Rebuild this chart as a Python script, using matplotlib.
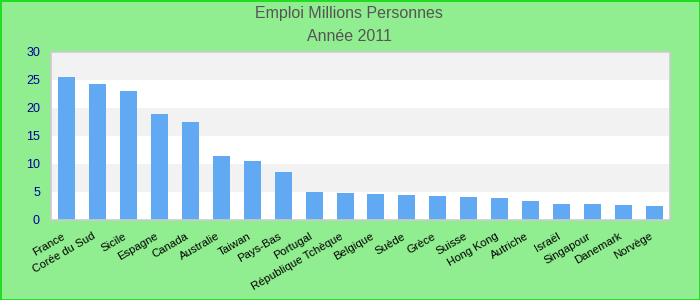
import numpy as np
import matplotlib.pyplot as plt
import matplotlib.transforms as mtransforms

# Data
countries = ["France", "Corée du Sud", "Sicile", "Espagne", "Canada", "Australie",
             "Taiwan", "Pays-Bas", "Portugal", "République Tchèque", "Belgique",
             "Suède", "Grèce", "Suisse", "Hong Kong", "Autriche", "Israël",
             "Singapour", "Danemark", "Norvège"]
emploi = [25.5, 24.3, 23.0, 18.9, 17.5, 11.4, 10.5, 8.6, 5.0, 4.8, 4.6,
          4.5, 4.3, 4.1, 3.9, 3.4, 2.9, 2.9, 2.7, 2.5]
yticks = [0, 5, 10, 15, 20, 25, 30]

plt.rcParams['font.family'] = ['Liberation Sans', 'DejaVu Sans']

fig = plt.figure(figsize=(7, 3), dpi=100)
fig.patch.set_facecolor('#90ee90')
fig.patch.set_edgecolor('#22dd22')
fig.patch.set_linewidth(2)

ax = fig.add_axes([0.073, 0.267, 0.884, 0.56])
ax.set_facecolor('white')

# alternating horizontal bands
for i in range(len(yticks) - 1):
    if i % 2 == 1:
        ax.axhspan(yticks[i], yticks[i + 1], color='#f2f2f2', zorder=0, lw=0)

x = np.arange(len(countries))
ax.bar(x, emploi, width=0.55, color='#62a9f4', zorder=2)

ax.set_xlim(-0.5, len(countries) - 0.5)
ax.set_ylim(0, 30)
ax.set_yticks(yticks)
ax.tick_params(axis='y', length=0, labelsize=9, labelcolor='#000099', pad=8)
ax.set_xticks(x)
ax.set_xticklabels(countries, rotation=30, ha='right', rotation_mode='anchor', fontsize=8.2)
ax.tick_params(axis='x', length=0, pad=8)
# nudge x labels a bit to the left, like the original
shift = mtransforms.ScaledTranslation(-5 / 100, 0, fig.dpi_scale_trans)
for lbl in ax.get_xticklabels():
    lbl.set_transform(lbl.get_transform() + shift)

for s in ax.spines.values():
    s.set_color('#cccccc')
    s.set_linewidth(1.2)

fig.text(0.499, 0.955, "Emploi Millions Personnes", ha='center', va='center',
         fontsize=11.5, color='#555555')
fig.text(0.499, 0.877, "Année 2011", ha='center', va='center',
         fontsize=11.5, color='#555555')

plt.savefig("out.png", facecolor=fig.get_facecolor(), edgecolor=fig.get_edgecolor())
